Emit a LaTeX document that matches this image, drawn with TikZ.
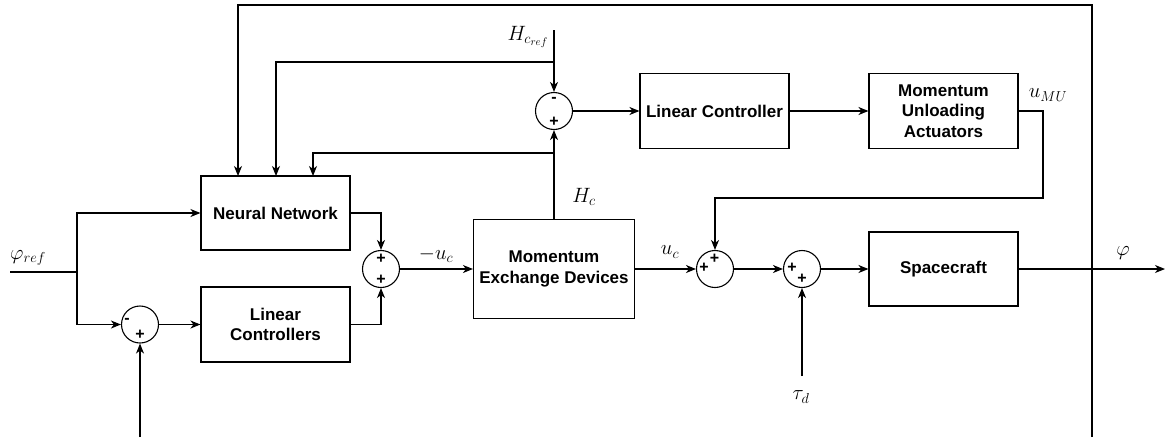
\documentclass[tikz,border=0pt]{standalone}
\usepackage{fontspec}
\setsansfont{Liberation Sans}
\usetikzlibrary{arrows.meta}
\tikzset{
  blk/.style={draw, line width=1.1pt, align=center, inner sep=0pt,
    font=\sffamily\bfseries\fontsize{17}{20.5}\selectfont},
  sumj/.style={draw, circle, line width=1.1pt, minimum size=37pt, inner sep=0pt},
  sgn/.style={inner sep=0pt, font=\sffamily\bfseries\fontsize{16}{16}\selectfont},
  lbl/.style={inner sep=0pt, font=\fontsize{21.5}{24}\selectfont},
  wire/.style={line width=1.1pt},
  sig/.style={wire, -{Stealth[length=10pt,width=8pt,inset=3pt]}},
}
\begin{document}
\begin{tikzpicture}[x=1pt,y=-1pt]
\useasboundingbox (0,0) rectangle (1165,437);

% blocks
\node[blk, minimum width=149pt, minimum height=74pt] (nn)  at (275.5,213) {Neural Network};
\node[blk, minimum width=149pt, minimum height=75pt] (lcs) at (275.5,324.5) {Linear\\Controllers};
\node[blk, minimum width=161pt, minimum height=99pt] (med) at (554,269) {Momentum\\Exchange Devices};
\node[blk, minimum width=149pt, minimum height=75pt] (lc)  at (714.5,111) {Linear Controller};
\node[blk, minimum width=149pt, minimum height=75pt] (mua) at (943.5,111) {Momentum\\Unloading\\Actuators};
\node[blk, minimum width=149pt, minimum height=74pt] (sc)  at (943.5,269) {Spacecraft};

% summing junctions
\node[sumj] (jL) at (140,324.5) {};
\node[sumj] (j2) at (381,269) {};
\node[sumj] (jT) at (554,111) {};
\node[sumj] (j3) at (715,269) {};
\node[sumj] (j4) at (802,269) {};

% junction signs
\node[sgn] (sL1) at (127,321) {-};
\node[sgn] (sL2) at (140,335) {+};
\node[sgn] (s21) at (381,259) {+};
\node[sgn] (s22) at (381,280) {+};
\node[sgn] (sT1) at (554,100) {-};
\node[sgn] (sT2) at (554,122) {+};
\node[sgn] (s31) at (714.5,259) {+};
\node[sgn] (s32) at (704,268) {+};
\node[sgn] (s41) at (792,268) {+};
\node[sgn] (s42) at (802,279) {+};

% free ends and branch points
\coordinate (in)    at (10,272);
\coordinate (split) at (77,272);
\coordinate (fbL)   at (140,437);
\coordinate (href)  at (554,30);
\coordinate (hrefb) at (554,62);
\coordinate (hcb)   at (554,153);
\coordinate (nnA)   at (238,176);
\coordinate (nnB)   at (276,176);
\coordinate (nnC)   at (313,176);
\coordinate (umu)   at (1043,198);
\coordinate (td)    at (802,376);
\coordinate (out)   at (1165,269);
\coordinate (fbR)   at (1092,437);
\coordinate (fbtop) at (1092,5);

% reference path
\draw[wire] (in) -- (split);
\draw[sig] (split) |- (nn.west);
\draw[sig] (split) |- (jL.west);
\draw[sig] (fbL) -- (jL.south);
\draw[sig] (jL.east) -- (lcs.west);

% inner loop
\draw[sig] (nn.east) -| (j2.north);
\draw[sig] (lcs.east) -| (j2.south);
\draw[sig] (j2.east) -- (med.west);
\draw[sig] (med.east) -- (j3.west);
\draw[sig] (j3.east) -- (j4.west);
\draw[sig] (td) -- (j4.south);
\draw[sig] (sc.east) -- (out);
\draw[sig] (j4.east) -- (sc.west);

% momentum management loop
\draw[sig] (med.north) -- (jT.south);
\draw[sig] (href) -- (jT.north);
\draw[sig] (hrefb) -| (nnB);
\draw[sig] (hcb) -| (nnC);
\draw[sig] (jT.east) -- (lc.west);
\draw[sig] (lc.east) -- (mua.west);
\draw[sig] (mua.east) -| (umu) -| (j3.north);

% attitude feedback
\draw[sig] (fbR) -- (fbtop) -| (nnA);

% signal labels
\node[lbl] (lphiref) at (28,258) {$\varphi_{ref}$};
\node[lbl] (lmuc)    at (436,255) {$-u_c$};
\node[lbl] (lHc)     at (584,197) {$H_c$};
\node[lbl] (lHcref)  at (528,37)  {$H_{c_{ref}}$};
\node[lbl] (luc)     at (670,252) {$u_c$};
\node[lbl] (luMU)    at (1048,95) {$u_{MU}$};
\node[lbl] (ltd)     at (801,397) {$\tau_d$};
\node[lbl] (lphi)    at (1123,253) {$\varphi$};
\end{tikzpicture}
\end{document}
